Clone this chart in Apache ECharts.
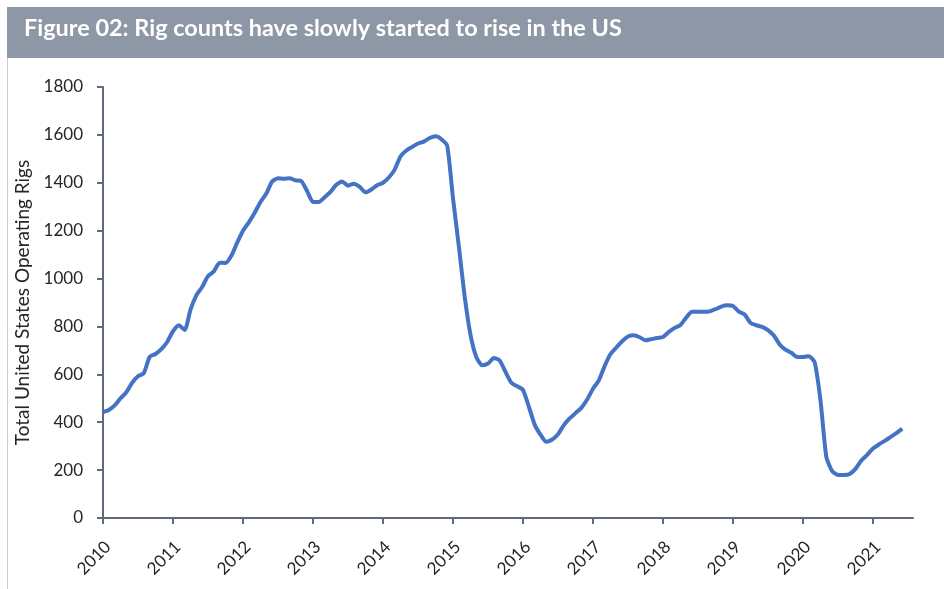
<!DOCTYPE html>
<html>
<head>
<meta charset="utf-8">
<script src="https://cdn.jsdelivr.net/npm/echarts@6/dist/echarts.min.js"></script>
<style>
html,body{margin:0;padding:0;background:#fff;}
#c{width:944px;height:589px;}
</style>
</head>
<body>
<div id="c"></div>
<script>
// Monthly US operating rig counts (Jan..Dec of each year)
const startYear = 2010;
const rigs2010 = [442, 451, 470, 500, 525, 565, 592, 605, 673, 685, 705, 735];
const rigs2011 = [780, 805, 785, 870, 930, 965, 1010, 1030, 1066, 1065, 1095, 1150];
const rigs2012 = [1200, 1235, 1275, 1320, 1355, 1405, 1419, 1417, 1419, 1410, 1407, 1365];
const rigs2013 = [1320, 1320, 1340, 1362, 1392, 1405, 1388, 1396, 1383, 1360, 1372, 1390];
const rigs2014 = [1400, 1422, 1455, 1510, 1535, 1550, 1564, 1572, 1587, 1594, 1582, 1555];
const rigs2015 = [1335, 1135, 925, 765, 672, 638, 645, 668, 658, 610, 565, 550];
const rigs2016 = [535, 465, 390, 348, 318, 328, 350, 388, 416, 438, 460, 495];
const rigs2017 = [540, 575, 635, 685, 712, 738, 758, 763, 755, 742, 747, 752];
const rigs2018 = [756, 777, 794, 806, 838, 861, 861, 861, 863, 872, 883, 888];
const rigs2019 = [885, 862, 850, 815, 805, 798, 785, 762, 725, 703, 690, 672];
const rigs2020 = [672, 676, 650, 490, 255, 196, 180, 180, 184, 205, 240, 264];
const rigs2021 = [290, 307, 322, 338, 354, 373];
const yearTicks = [2010, 2011, 2012, 2013, 2014, 2015, 2016, 2017, 2018, 2019, 2020, 2021];
const titleText = 'Figure 02: Rig counts have slowly started to rise in the US';
const yName = 'Total United States Operating Rigs';

const years = [rigs2010, rigs2011, rigs2012, rigs2013, rigs2014, rigs2015,
               rigs2016, rigs2017, rigs2018, rigs2019, rigs2020, rigs2021];
const seriesData = [];
years.forEach((arr, yi) => {
  arr.forEach((v, mi) => {
    seriesData.push([startYear + yi + mi / 12, v]);
  });
});

const chart = echarts.init(document.getElementById('c'), null, {renderer: 'canvas'});
const axisColor = '#5f6b7a';
const txtColor = '#262626';
const font = 'Lato';

chart.setOption({
  animation: false,
  backgroundColor: '#ffffff',
  graphic: [
    {type: 'rect', shape: {x: 7, y: 7, width: 937, height: 51}, style: {fill: '#8d97a6'}, silent: true},
    {type: 'line', shape: {x1: 7.5, y1: 58, x2: 7.5, y2: 589}, style: {stroke: '#cccccc', lineWidth: 1}, silent: true},
    {type: 'text', x: 24, y: 18, scaleX: 1.065, style: {text: titleText, fill: '#ffffff', font: 'bold 22px Lato'}, silent: true}
  ],
  grid: {left: 103, right: 31, top: 87, bottom: 71, containLabel: false},
  xAxis: {
    type: 'value',
    min: 2010,
    max: 2010 + 810 / 70,
    axisLine: {show: true, lineStyle: {color: axisColor, width: 2}},
    axisTick: {show: true, length: 6, lineStyle: {color: axisColor, width: 2}, customValues: yearTicks},
    axisLabel: {
      customValues: yearTicks,
      rotate: 45,
      margin: 31,
      padding: [0, -7, 0, 0],
      color: txtColor,
      fontFamily: font,
      fontSize: 17,
      formatter: v => String(Math.round(v))
    },
    splitLine: {show: false}
  },
  yAxis: {
    type: 'value',
    min: 0,
    max: 1800,
    interval: 200,
    name: yName,
    nameLocation: 'middle',
    nameGap: 69,
    nameRotate: 90,
    nameTextStyle: {color: txtColor, fontFamily: font, fontSize: 19},
    axisLine: {show: true, lineStyle: {color: axisColor, width: 2}},
    axisTick: {show: true, length: 6, lineStyle: {color: axisColor, width: 2}},
    axisLabel: {margin: 20, color: txtColor, fontFamily: font, fontSize: 17, formatter: v => String(v)},
    splitLine: {show: false}
  },
  series: [{
    type: 'line',
    data: seriesData,
    showSymbol: false,
    smooth: 0.2,
    lineStyle: {color: '#4472c4', width: 4},
    itemStyle: {color: '#4472c4'}
  }]
});
</script>
</body>
</html>
